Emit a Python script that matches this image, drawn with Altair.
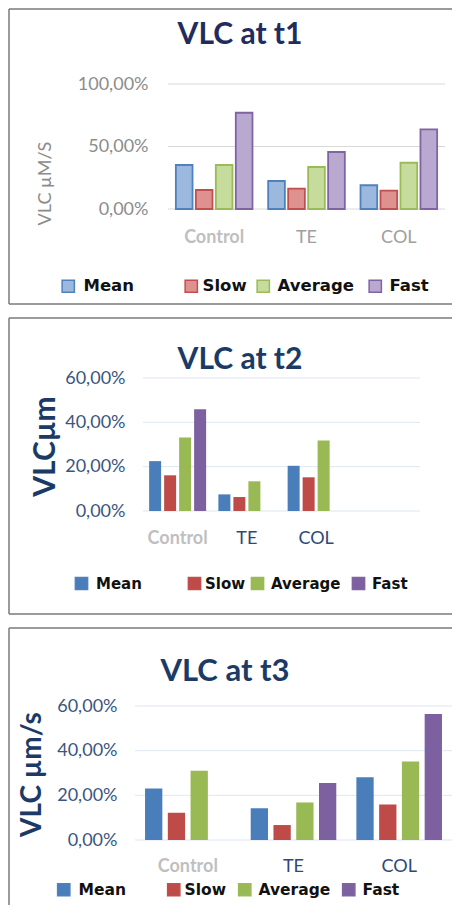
import altair as alt
import pandas as pd

groups = ["Control", "TE", "COL"]
series = ["Mean", "Slow", "Average", "Fast"]

# VLC at t1
t1_mean = [0.352, 0.224, 0.190]
t1_slow = [0.152, 0.163, 0.147]
t1_average = [0.352, 0.336, 0.370]
t1_fast = [0.770, 0.456, 0.637]

# VLC at t2
t2_mean = [0.225, 0.075, 0.204]
t2_slow = [0.161, 0.063, 0.152]
t2_average = [0.332, 0.134, 0.318]
t2_fast = [0.459, None, None]

# VLC at t3
t3_mean = [0.231, 0.142, 0.281]
t3_slow = [0.122, 0.067, 0.159]
t3_average = [0.310, 0.168, 0.351]
t3_fast = [None, 0.255, 0.564]

ticks_t1 = [0, 0.5, 1.0]
ticks_t23 = [0, 0.2, 0.4, 0.6]

light_fill = ["#9cb8de", "#de918f", "#c6dc9d", "#b9a9d0"]
dark_edge = ["#4f81bd", "#c0504d", "#9bbb59", "#8064a2"]
solid_fill = ["#4a7ebb", "#be4b48", "#98b954", "#7d60a0"]
legend_label_offset = [7, 3, 6, 6]

FRAME = "#7a7a7a"
PANEL_W = 443


def build_df(mean, slow, avg, fast):
    rows = []
    for s, vals in zip(series, [mean, slow, avg, fast]):
        for g, v in zip(groups, vals):
            if v is not None:
                rows.append({"group": g, "series": s, "value": v})
    return pd.DataFrame(rows)


def frame(y0, y1, bottom=True):
    base = alt.Chart(alt.Data(values=[{}]))
    lay = [
        base.mark_rule(color=FRAME, strokeWidth=1.5).encode(
            x=alt.value(0), x2=alt.value(PANEL_W), y=alt.value(y0)),
        base.mark_rule(color=FRAME, strokeWidth=1.5).encode(
            x=alt.value(0), y=alt.value(y0), y2=alt.value(y1)),
    ]
    if bottom:
        lay.append(base.mark_rule(color=FRAME, strokeWidth=1.5).encode(
            x=alt.value(0), x2=alt.value(PANEL_W), y=alt.value(y1)))
    return lay


def panel(df, domain_x, ymax, ticks, pl, pr, h, pi, po, sub_pi,
          fills, stroke_w, title, title_color, title_size, title_x, title_y,
          ytitle, ytitle_size, ytitle_weight, ytitle_color, ytitle_x, ytitle_y,
          tick_color, tick_pad, grid_color, other_label_color, xlab_pad,
          leg_xs, leg_y, leg_size, fy0, fy1, frame_bottom=True):
    pct = "replace(format(datum.value, '.2%'), '.', ',')"
    x_enc = alt.X("group:N", sort=domain_x,
                  scale=alt.Scale(domain=domain_x, range=[pl, pr],
                                  paddingInner=pi, paddingOuter=po),
                  axis=alt.Axis(title=None, labelAngle=0, ticks=False, domain=False,
                                labelFont="Lato", labelFontSize=18,
                                labelPadding=xlab_pad,
                                labelFontWeight=alt.condition("datum.value == 'Control'",
                                                              alt.value("bold"), alt.value("normal")),
                                labelColor=alt.condition("datum.value == 'Control'",
                                                         alt.value("#bfbfbf"),
                                                         alt.value(other_label_color))))
    xo_enc = alt.XOffset("series:N", sort=series,
                         scale=alt.Scale(domain=series, paddingInner=sub_pi, paddingOuter=0))
    y_enc = alt.Y("value:Q",
                  scale=alt.Scale(domain=[0, ymax], nice=False),
                  axis=alt.Axis(values=ticks, labelExpr=pct, domain=False, ticks=False,
                                grid=False, offset=-pl,
                                labelFont="Lato", labelFontSize=18, labelColor=tick_color,
                                labelPadding=tick_pad,
                                title=ytitle, titleFont="Lato", titleFontSize=ytitle_size,
                                titleFontWeight=ytitle_weight, titleColor=ytitle_color,
                                titleX=ytitle_x, titleY=ytitle_y, titleAngle=270,
                                titleAlign="center", titleBaseline="middle"))

    grid = alt.Chart(pd.DataFrame({"value": ticks})).mark_rule(
        color=grid_color, strokeWidth=1
    ).encode(y=y_enc, x=alt.value(pl), x2=alt.value(pr))

    def bars(k):
        s = series[k]
        mark_kw = {"strokeWidth": stroke_w}
        if stroke_w > 0:
            mark_kw["stroke"] = dark_edge[k]
        return alt.Chart(df).transform_filter(alt.datum.series == s).mark_bar(**mark_kw).encode(
            x=x_enc, xOffset=xo_enc, y=y_enc,
            color=alt.Color("series:N",
                            scale=alt.Scale(domain=[s], range=[fills[k]]),
                            legend=alt.Legend(title=None, orient="none", direction="horizontal",
                                              legendX=leg_xs[k], legendY=leg_y,
                                              symbolType="square", symbolSize=150,
                                              symbolStrokeWidth=1.5,
                                              symbolStrokeColor=dark_edge[k],
                                              labelFont="DejaVu Sans", labelFontWeight="bold",
                                              labelFontSize=leg_size, labelColor="#111111",
                                              labelOffset=legend_label_offset[k])),
        )

    title_mark = alt.Chart(alt.Data(values=[{"t": title}])).mark_text(
        font="Lato", fontSize=title_size, fontWeight="bold", color=title_color,
        align="center", baseline="alphabetic"
    ).encode(text="t:N", x=alt.value(title_x), y=alt.value(title_y))

    layers = [grid] + [bars(k) for k in range(4)] + [title_mark] + frame(fy0, fy1, frame_bottom)
    return alt.layer(*layers).resolve_scale(color="independent").resolve_legend(
        color="independent").properties(width=PANEL_W, height=h)


df1 = build_df(t1_mean, t1_slow, t1_average, t1_fast)
df2 = build_df(t2_mean, t2_slow, t2_average, t2_fast)
df3 = build_df(t3_mean, t3_slow, t3_average, t3_fast)

p1 = panel(df1, groups, 1.0, ticks_t1, 159, 436, 125, 0.17, 0.085, 0.165,
           light_fill, 1.8, "VLC at t1", "#1f2d5e", 30, 231, -40,
           "VLC µM/S", 18, "normal", "#8c8c8c", -123, 99,
           "#8c8c8c", 20, "#d9d9d9", "#a0a0a0", 19,
           [51, 174, 246, 358], 194, 16.5, -75, 220)

p2 = panel(df2, groups + [" "], 0.6, ticks_t23, 134, 411, 133, 0.177, 0.0885, 0.2,
           solid_fill, 0, "VLC at t2", "#1b3b66", 30, 231, -9,
           "VLCµm", 30, "bold", "#1b3b66", -98, 68,
           "#3a5680", 18, "#dde6f1", "#2c4a78", 18,
           [65, 178, 241, 342], 198, 15, -60, 236)

p3 = panel(df3, groups, 0.6, ticks_t23, 126, 443, 134, 0.19, 0.095, 0.24,
           solid_fill, 0, "VLC at t3", "#1b3b66", 31, 216, -25,
           "VLC µm/s", 28, "bold", "#1b3b66", -103, 68,
           "#3a5680", 18, "#dde6f1", "#2c4a78", 17,
           [47, 157, 228, 332], 176, 15.5, -78, 199, frame_bottom=False)

chart = alt.vconcat(p1, p2, p3, spacing=12).resolve_scale(
    x="independent", y="independent", xOffset="independent", color="independent"
).resolve_legend(color="independent").properties(
    padding=0, background="white"
).configure_view(stroke=None)

chart.save("out.html", embed_options={"renderer": "svg", "actions": False})
